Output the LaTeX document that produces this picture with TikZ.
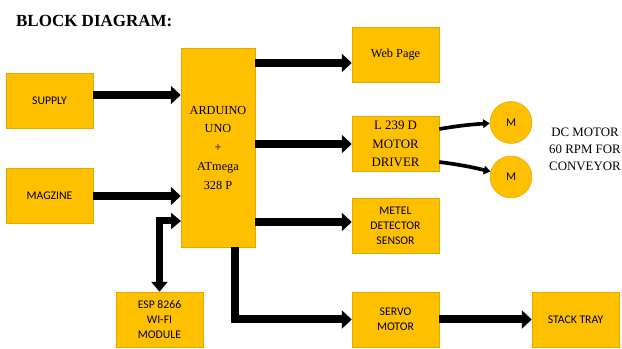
\documentclass[tikz,border=0pt]{standalone}
\usepackage{fontspec}
\setmainfont{Liberation Serif}
\newfontfamily\calib{Carlito}
\usetikzlibrary{positioning,arrows.meta}
\definecolor{gold}{HTML}{FFC000}
\definecolor{golddark}{HTML}{E2A800}
\tikzset{
diagram/.style={
    x=0.03cm,
    y=-0.03cm,
    line join=miter
},
block/.style={
    rectangle,
    draw=golddark,
    fill=gold,
    minimum width=2.61cm,
    minimum height=1.65cm,
    inner sep=1pt,
    align=center,
    font=\fontsize{10.5}{13.6}\selectfont
},
sfblock/.style={
    block,
    font=\calib\fontsize{10}{12.8}\selectfont
},
motor/.style={
    circle,
    draw=golddark,
    fill=gold,
    minimum size=1.26cm,
    inner sep=0pt,
    font=\calib\fontsize{10}{12}\selectfont
},
feeds/.style={
    -{Triangle[length=0.3cm,width=0.54cm]},
    line width=0.24cm
},
feedsboth/.style={
    {Triangle[length=0.3cm,width=0.48cm]}-{Triangle[length=0.3cm,width=0.48cm]},
    line width=0.21cm
},
drives/.style={
    -{Triangle[length=0.2cm,width=0.26cm]},
    line width=0.11cm
}}

\begin{document}
\begin{tikzpicture}[diagram]
\useasboundingbox (0,0) rectangle (622,349);

\node[anchor=base west] (title) at (12,27) {\fontsize{14.5}{17}\selectfont\bfseries BLOCK DIAGRAM:};

\node[sfblock]  (supply)  at (49.5,100.5)  {SUPPLY};
\node[sfblock]  (mag)     at (49.5,196)    {MAGZINE};
\node[block, minimum width=2.22cm, minimum height=5.97cm, font=\fontsize{10.5}{16}\selectfont]
                (ard)     at (218,147.5)   {ARDUINO\\UNO\\+\\ATmega\\328 P};
\node[sfblock]  (esp)     at (159.5,319.5) {ESP 8266\\WI-FI\\MODULE};
\node[block]    (web)     at (395.5,54.5)  {Web Page};
\node[block, font=\fontsize{11}{16}\selectfont]
                (drv)     at (395.5,144)   {L 239 D\\MOTOR\\DRIVER};
\node[sfblock]  (metel)   at (395.5,225.5) {METEL\\DETECTOR\\SENSOR};
\node[sfblock]  (servo)   at (395.5,319.5) {SERVO\\MOTOR};
\node[sfblock]  (stack)   at (575.5,319.5) {STACK TRAY};
\node[motor]    (m1)      at (511,122.5)   {M};
\node[motor]    (m2)      at (511,177)     {M};
\node[align=center, font=\fontsize{11}{14.5}\selectfont]
                (dc)      at (585,149)     {DC MOTOR\\60 RPM FOR\\CONVEYOR};
\coordinate (espin) at (181,221);

% inputs
\draw[feeds] (supply.east |- 0,95) -- (ard.west |- 0,95);
\draw[feeds] (mag) -- (ard.west |- mag);
\draw[feedsboth] (esp) |- (espin);

% outputs
\draw[feeds] (ard.east |- 0,63) -- (web.west |- 0,63);
\draw[feeds] (ard.east |- drv) -- (drv);
\draw[feeds] (ard.east |- 0,222) -- (metel.west |- 0,222);
\draw[feeds] ([xshift=0.51cm]ard.south) |- (servo);
\draw[feeds] (servo) -- (stack);

% motors
\draw[drives] (drv.east |- 0,129) to[bend left=3] (m1);
\draw[drives] (drv.east |- 0,162) to[bend left=3] (m2);
\end{tikzpicture}
\end{document}
